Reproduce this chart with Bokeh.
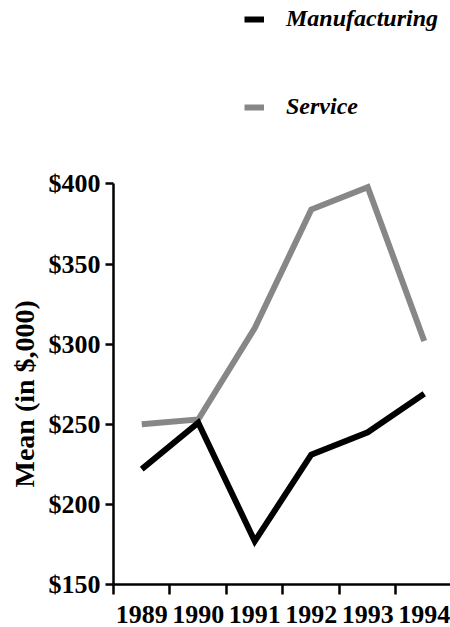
from bokeh.plotting import figure
from bokeh.models import Range1d, FixedTicker, NumeralTickFormatter, Legend, LegendItem, Title
from bokeh.embed import file_html
from bokeh.resources import INLINE

years = ["1989", "1990", "1991", "1992", "1993", "1994"]
manufacturing = [222, 251, 177, 231, 245, 269]
service = [250, 253, 310, 384, 398, 302]
y_ticks = [150, 200, 250, 300, 350, 400]
y_label = "Mean (in $,000)"

x_pos = [i + 0.5 for i in range(len(years))]
x_bounds = list(range(len(years)))

FONT = "Liberation Serif"

# frame: x 113..450, y 0..584 ; value 400 sits at y=183.5
p = figure(width=450, height=627, output_backend="svg", toolbar_location=None,
           x_range=Range1d(0, 5.965), y_range=Range1d(150, 514.5),
           min_border_left=113, min_border_right=0, min_border_top=0,
           min_border_bottom=43)

p.xgrid.visible = False
p.ygrid.visible = False
p.outline_line_color = None
p.background_fill_color = "white"
p.border_fill_color = "white"

r2 = p.line(x_pos, service, line_color="#878787", line_width=6, line_join="miter")
r1 = p.line(x_pos, manufacturing, line_color="black", line_width=6, line_join="miter")

xa = p.xaxis[0]
xa.ticker = FixedTicker(ticks=x_pos, minor_ticks=x_bounds)
xa.major_label_overrides = {x: y for x, y in zip(x_pos, years)}
xa.major_tick_out = 0
xa.major_tick_in = 0
xa.minor_tick_out = 10
xa.minor_tick_in = 0
xa.minor_tick_line_width = 2.5
xa.minor_tick_line_color = "black"
xa.axis_line_width = 2.5
xa.axis_line_color = "black"
xa.major_label_standoff = 11
xa.major_label_text_font = FONT
xa.major_label_text_font_style = "bold"
xa.major_label_text_font_size = "26px"
xa.major_label_text_color = "black"

ya = p.yaxis[0]
ya.bounds = (150, 400)
ya.ticker = FixedTicker(ticks=y_ticks)
ya.formatter = NumeralTickFormatter(format="$0")
ya.major_tick_out = 8
ya.major_tick_in = 0
ya.minor_tick_out = 0
ya.minor_tick_in = 0
ya.major_tick_line_width = 2.5
ya.axis_line_width = 2.5
ya.axis_line_color = "black"
ya.major_label_standoff = 5
ya.major_label_text_font = FONT
ya.major_label_text_font_style = "bold"
ya.major_label_text_font_size = "26px"
ya.major_label_text_color = "black"

ytitle = Title(text=y_label, align="left", offset=97, standoff=11,
               text_font=FONT, text_font_style="bold", text_font_size="28px",
               text_color="black")
p.add_layout(ytitle, "left")

legend = Legend(
    items=[LegendItem(label="Manufacturing", renderers=[r1]),
           LegendItem(label="Service", renderers=[r2])],
    location=(131, 464), orientation="vertical",
    glyph_width=20, glyph_height=24, label_height=24, spacing=61,
    label_standoff=22, padding=0, margin=0,
    border_line_color=None, background_fill_alpha=0,
    label_text_font=FONT, label_text_font_style="bold italic",
    label_text_font_size="24px", label_text_color="black")
p.add_layout(legend)

open("out.html", "w").write(file_html(p, INLINE))
